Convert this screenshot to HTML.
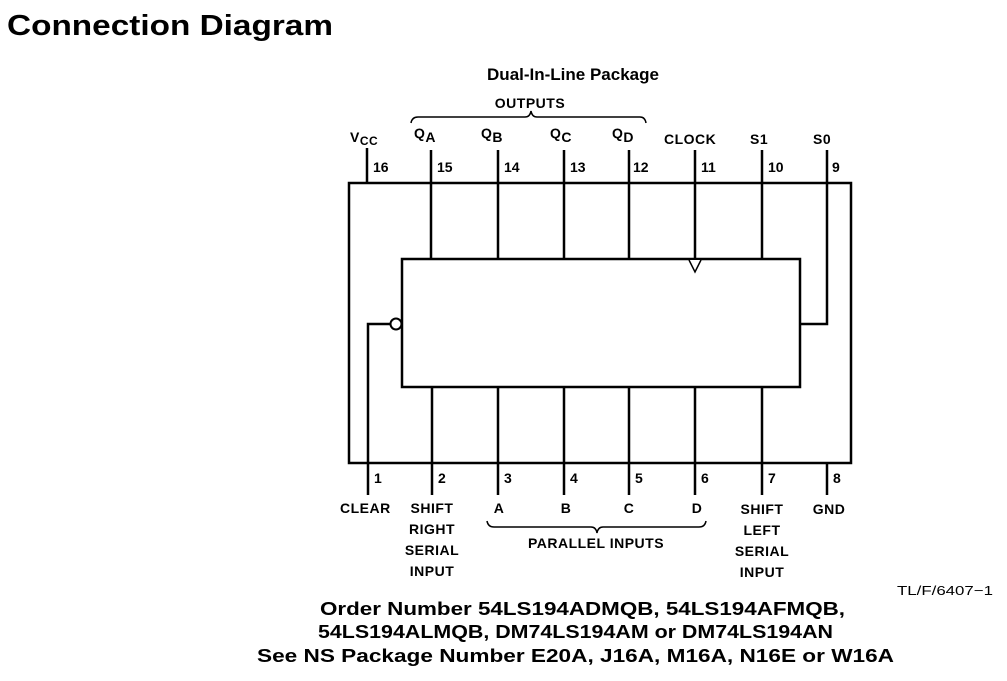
<!DOCTYPE html>
<html><head><meta charset="utf-8"><style>
html,body{margin:0;padding:0;background:#fff;width:1007px;height:681px;overflow:hidden}
svg{display:block}
text{font-family:"Liberation Sans",Arial,sans-serif;fill:#000}
.b{font-weight:bold}
.s{font-size:14px;font-weight:bold;letter-spacing:0.5px}
.n{font-size:14px;font-weight:bold}
</style></head><body>
<svg width="1007" height="681" viewBox="0 0 1007 681" xmlns="http://www.w3.org/2000/svg">
<text x="7" y="35" class="b" font-size="29" textLength="326" lengthAdjust="spacingAndGlyphs">Connection Diagram</text>
<text x="573" y="80" class="b" font-size="17" text-anchor="middle">Dual-In-Line Package</text>
<text x="530" y="108" class="s" text-anchor="middle">OUTPUTS</text>
<path d="M411,123 Q412,117 418,117 L525,117 Q530,117 531,111 Q532,117 537,117 L640,117 Q645,117 646,123" fill="none" stroke="#000" stroke-width="1.5"/>
<g stroke="#000" stroke-width="2.5" fill="none">
<rect x="349" y="183" width="502" height="280"/>
<rect x="402" y="259" width="398" height="128"/>
<line x1="367" y1="148" x2="367" y2="183"/>
<line x1="431" y1="150" x2="431" y2="259"/>
<line x1="498" y1="150" x2="498" y2="259"/>
<line x1="564" y1="150" x2="564" y2="259"/>
<line x1="629" y1="150" x2="629" y2="259"/>
<line x1="695" y1="150" x2="695" y2="259"/>
<line x1="762" y1="150" x2="762" y2="259"/>
<polyline points="827,150 827,324 800,324"/>
<polyline points="368,495 368,324 390,324"/>
<line x1="432" y1="387" x2="432" y2="495"/>
<line x1="498" y1="387" x2="498" y2="495"/>
<line x1="564" y1="387" x2="564" y2="495"/>
<line x1="629" y1="387" x2="629" y2="495"/>
<line x1="695" y1="387" x2="695" y2="495"/>
<line x1="762" y1="387" x2="762" y2="495"/>
<line x1="827" y1="463" x2="827" y2="495"/>
</g>
<circle cx="396" cy="324" r="5.5" fill="#fff" stroke="#000" stroke-width="2"/>
<polyline points="689,260 695,272 701,260" fill="#fff" stroke="#000" stroke-width="1.5"/>
<!-- top labels -->
<text x="350" y="142" class="s">V<tspan font-size="12" dy="3">CC</tspan></text>
<text x="414" y="138" class="s">Q<tspan dy="4">A</tspan></text>
<text x="481" y="138" class="s">Q<tspan dy="4">B</tspan></text>
<text x="550" y="138" class="s">Q<tspan dy="4">C</tspan></text>
<text x="612" y="138" class="s">Q<tspan dy="4">D</tspan></text>
<text x="664" y="144" class="s">CLOCK</text>
<text x="750" y="144" class="s">S1</text>
<text x="813" y="144" class="s">S0</text>
<g class="n">
<text x="373" y="172" class="n">16</text>
<text x="437" y="172" class="n">15</text>
<text x="504" y="172" class="n">14</text>
<text x="570" y="172" class="n">13</text>
<text x="633" y="172" class="n">12</text>
<text x="701" y="172" class="n">11</text>
<text x="768" y="172" class="n">10</text>
<text x="832" y="172" class="n">9</text>
<text x="374" y="483" class="n">1</text>
<text x="438" y="483" class="n">2</text>
<text x="504" y="483" class="n">3</text>
<text x="570" y="483" class="n">4</text>
<text x="635" y="483" class="n">5</text>
<text x="701" y="483" class="n">6</text>
<text x="768" y="483" class="n">7</text>
<text x="833" y="483" class="n">8</text>
</g>
<text x="340" y="513" class="s">CLEAR</text>
<g class="s" text-anchor="middle">
<text x="432" y="513" class="s" text-anchor="middle">SHIFT</text>
<text x="432" y="534" class="s" text-anchor="middle">RIGHT</text>
<text x="432" y="555" class="s" text-anchor="middle">SERIAL</text>
<text x="432" y="576" class="s" text-anchor="middle">INPUT</text>
<text x="499" y="513" class="s" text-anchor="middle">A</text>
<text x="566" y="513" class="s" text-anchor="middle">B</text>
<text x="629" y="513" class="s" text-anchor="middle">C</text>
<text x="697" y="513" class="s" text-anchor="middle">D</text>
<text x="762" y="514" class="s" text-anchor="middle">SHIFT</text>
<text x="762" y="535" class="s" text-anchor="middle">LEFT</text>
<text x="762" y="556" class="s" text-anchor="middle">SERIAL</text>
<text x="762" y="577" class="s" text-anchor="middle">INPUT</text>
<text x="829" y="514" class="s" text-anchor="middle">GND</text>
<text x="596" y="548" class="s" text-anchor="middle">PARALLEL INPUTS</text>
</g>
<path d="M487,521 Q488,527 494,527 L591,527 Q596,527 597,533 Q598,527 603,527 L699,527 Q705,527 706,521" fill="none" stroke="#000" stroke-width="1.5"/>
<text x="897" y="595" font-size="13" textLength="96" lengthAdjust="spacingAndGlyphs">TL/F/6407−1</text>
<text x="320" y="615" class="b" font-size="18" textLength="525" lengthAdjust="spacingAndGlyphs">Order Number 54LS194ADMQB, 54LS194AFMQB,</text>
<text x="318" y="638" class="b" font-size="18" textLength="515" lengthAdjust="spacingAndGlyphs">54LS194ALMQB, DM74LS194AM or DM74LS194AN</text>
<text x="257" y="662" class="b" font-size="18" textLength="637" lengthAdjust="spacingAndGlyphs">See NS Package Number E20A, J16A, M16A, N16E or W16A</text>
</svg>
</body></html>
